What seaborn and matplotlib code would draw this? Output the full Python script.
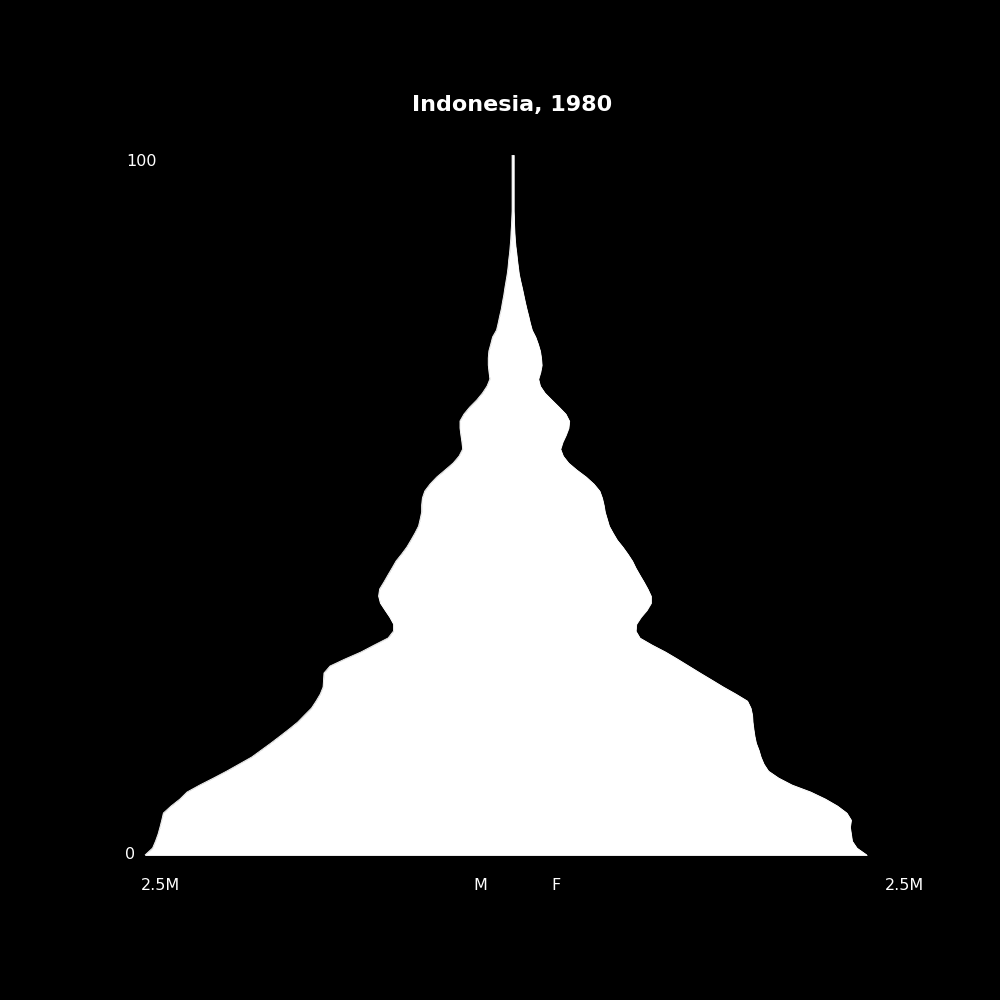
import numpy as np
import pandas as pd
import matplotlib
matplotlib.use("Agg")
import matplotlib.pyplot as plt
import seaborn as sns

# Single-year ages 0..100 (population in thousands)
ages = list(range(0, 101))
male = [2485, 2434, 2414, 2397, 2384, 2372, 2361, 2309, 2249, 2201,
        2115, 2022, 1932, 1848, 1764, 1699, 1634, 1572, 1511, 1453,
        1407, 1360, 1329, 1301, 1282, 1279, 1276, 1235, 1134, 1026,
        936, 843, 806, 806, 832, 864, 895, 907, 900, 871,
        844, 816, 789, 751, 716, 688, 661, 637, 626, 616,
        616, 611, 595, 559, 514, 458, 403, 363, 339, 344,
        351, 357, 357, 330, 291, 244, 205, 174, 155, 161,
        166, 166, 162, 149, 137, 110, 99, 89, 78, 70,
        61, 54, 46, 38, 32, 28, 22, 18, 14, 12,
        9, 7, 5, 5, 5, 5, 5, 5, 5, 5, 5]
female = [2391, 2324, 2292, 2285, 2278, 2285, 2256, 2193, 2111, 2012,
          1886, 1795, 1726, 1695, 1675, 1661, 1643, 1633, 1626, 1620,
          1617, 1607, 1584, 1506, 1422, 1344, 1265, 1188, 1111, 1031,
          940, 858, 830, 834, 865, 905, 933, 933, 911, 885,
          857, 830, 807, 776, 742, 704, 676, 650, 636, 622,
          614, 603, 586, 547, 495, 432, 376, 339, 321, 336,
          358, 376, 381, 357, 311, 263, 216, 184, 172, 186,
          195, 191, 184, 170, 153, 129, 116, 105, 93, 82,
          72, 62, 51, 41, 35, 29, 24, 18, 14, 11,
          9, 8, 6, 6, 6, 6, 6, 6, 6, 6, 6]

title = "Indonesia, 1980"
x_tick_labels = ["2.5M", "M", "F", "2.5M"]
y_tick_labels = ["100", "0"]

sns.set_theme(style="white")
plt.rcParams["font.family"] = ["DejaVu Sans"]

fig = plt.figure(figsize=(10, 10), dpi=100, facecolor="black")
ax = fig.add_axes([0.0688, 0.145, 0.888, 0.70])
ax.set_facecolor("black")

df = pd.DataFrame({"age": ages, "male": male, "female": female})
df["male_neg"] = -df["male"]

ax.fill_betweenx(df["age"], df["male_neg"], df["female"], facecolor="white",
                 edgecolor="white", linewidth=0.6)
# invisible-weight outline drawn through seaborn to keep the edges crisp
sns.lineplot(data=df, x="male_neg", y="age", orient="y", sort=False,
             color="white", linewidth=0.6, ax=ax, legend=False)
sns.lineplot(data=df, x="female", y="age", orient="y", sort=False,
             color="white", linewidth=0.6, ax=ax, legend=False)

ax.set_xlim(-3000, 3000)
ax.set_ylim(0, 100)
ax.set_xticks([])
ax.set_yticks([])
ax.set_xlabel("")
ax.set_ylabel("")
for s in ax.spines.values():
    s.set_visible(False)

W, H = 1000, 1000
def ftext(px, py, s, **kw):
    fig.text(px / W, 1 - py / H, s, color="white", **kw)

ftext(512, 105.5, title, fontsize=16, fontweight="bold", ha="center", va="center")
ftext(126, 161.5, y_tick_labels[0], fontsize=11.5, ha="left", va="center")
ftext(125, 854.5, y_tick_labels[1], fontsize=11.5, ha="left", va="center")
ftext(160.5, 885.5, x_tick_labels[0], fontsize=11.5, ha="center", va="center")
ftext(480, 885.5, x_tick_labels[1], fontsize=11.5, ha="center", va="center")
ftext(556, 885.5, x_tick_labels[2], fontsize=11.5, ha="center", va="center")
ftext(904.5, 885.5, x_tick_labels[3], fontsize=11.5, ha="center", va="center")

fig.savefig("out.png", dpi=100, facecolor="black")
